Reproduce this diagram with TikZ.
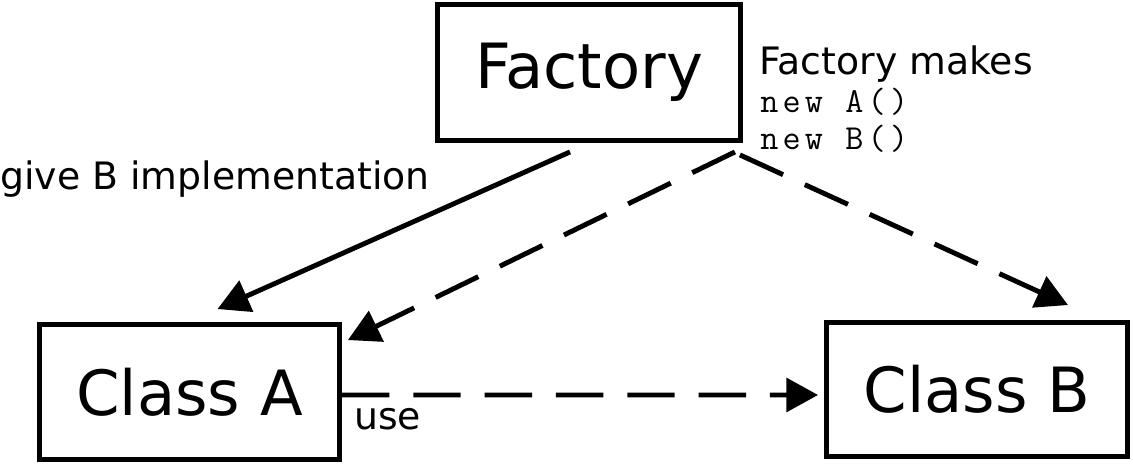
\documentclass[tikz,border=0pt]{standalone}
\usepackage{fontspec}
\setmainfont{DejaVu Sans}
\newfontfamily\codefont{Latin Modern Mono}[LetterSpace=12]
\usetikzlibrary{arrows.meta, positioning, calc}

\begin{document}
\begin{tikzpicture}[
    x=0.02cm, y=-0.02cm,
    box/.style={rectangle, draw, line width=2.8pt, inner sep=0pt, font=\fontsize{35.5}{40}\selectfont},
    label/.style={inner sep=0pt, font=\fontsize{21.5}{24}\selectfont},
    code/.style={inner sep=0pt, font=\codefont\fontsize{20}{22}\selectfont},
    arrow/.style={-{Triangle[length=18pt, width=19pt]}, line width=2.8pt},
    dasharrow/.style={arrow, dash pattern=on 27pt off 13.6pt}
]
\useasboundingbox (0,0) rectangle (1133,465);

% ============ BOXES ============
\node[box, minimum width=6.06cm, minimum height=2.72cm] (factory) at (589,72.5) {Factory};
\node[box, minimum width=6.0cm, minimum height=2.70cm] (classA) at (189.5,392) {Class A};
\node[box, minimum width=6.02cm, minimum height=2.68cm] (classB) at (977,389.5) {Class B};

% ============ LABELS ============
\node[label, anchor=base west] (give) at (0,190) {give B implementation};
\node[label, anchor=base west] (makes) at (759,75) {Factory makes};
\node[code, anchor=base west] (newA) at (760,113) {new A()};
\node[code, anchor=base west] (newB) at (760,150) {new B()};
\node[label, anchor=base west] (use) at (354,430) {use};

% ============ ARROWS ============
\draw[arrow] ($(factory.south)+(-19,9)$) -- ($(classA.north)+(28,-13)$);
\draw[dasharrow] ($(factory.south east)+(-8,9)$) -- ($(classA.north east)+(6,18)$);
\draw[dasharrow] ($(factory.south east)+(-3,12)$) -- ($(classB.north)+(91,-15)$);
\draw[dasharrow] ($(classA.east)+(0,3)$) -- ($(classB.west)+(-6,5.5)$);

\end{tikzpicture}
\end{document}
